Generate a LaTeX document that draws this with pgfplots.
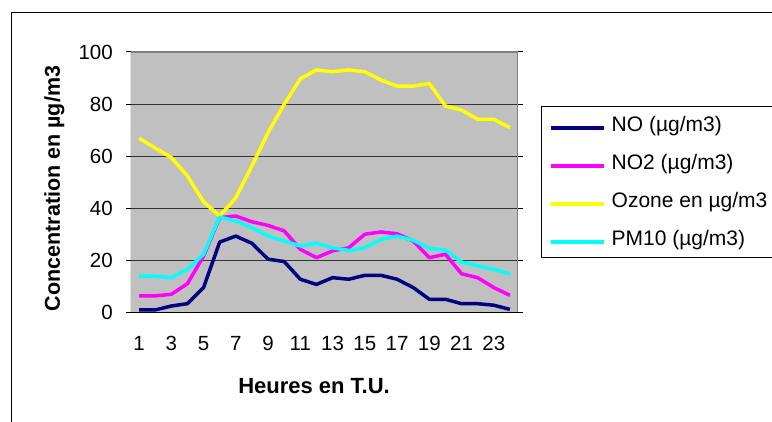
\documentclass[border=0pt]{standalone}
\usepackage{pgfplots}
\usepackage{pgfplotstable}
\pgfplotsset{compat=1.18}
\usepackage{fontspec}
\setmainfont{Liberation Sans}
\definecolor{noC}{RGB}{0,0,128}
\definecolor{notwoC}{RGB}{255,0,255}
\definecolor{ozC}{RGB}{255,255,0}
\definecolor{pmC}{RGB}{0,255,255}
\definecolor{plotbg}{RGB}{192,192,192}
\definecolor{bordergray}{RGB}{128,128,128}
\pgfplotstableread{
h NO NOtwo Ozone PM
1 0.8 6.2 66.8 13.8
2 0.8 6.2 63.1 13.8
3 2.3 6.8 59.4 13.2
4 3.2 10.9 52.3 16.4
5 9.4 21.5 42.4 22.2
6 26.9 36.3 36.9 36.5
7 29.2 36.9 44.0 35.0
8 26.4 34.7 56.2 32.4
9 20.3 33.3 69.0 29.2
10 19.4 31.2 79.9 27.3
11 12.6 24.1 89.7 25.4
12 10.6 20.9 93.1 26.4
13 13.2 23.5 92.4 24.7
14 12.6 24.7 93.1 23.7
15 14.1 29.9 92.4 24.7
16 14.1 30.8 89.2 27.9
17 12.6 30.1 86.9 29.2
18 9.4 27.3 86.9 27.6
19 4.9 20.9 87.9 24.5
20 4.9 22.2 79.2 23.8
21 3.2 14.7 77.7 19.2
22 3.2 13.2 74.1 17.7
23 2.6 9.4 74.1 16.4
24 1.0 6.4 70.9 14.7
}\datatable
\begin{document}
\begin{tikzpicture}[x=1pt,y=1pt]
\useasboundingbox (0,0) rectangle (772,421);
\clip (0,0) rectangle (772,421);
\fill[white] (0,0) rectangle (772,421);
\draw[black, line width=1pt] (11,-10) -- (11,408) -- (790,408);
\draw[black, line width=1pt, fill=white] (541,163) rectangle (800,314);
\begin{axis}[
  at={(131pt,109pt)}, anchor=south west,
  width=387pt, height=260pt, scale only axis,
  xmin=0.5, xmax=24.5, ymin=0, ymax=100,
  axis background/.style={fill=plotbg},
  axis line style={draw=none},
  tick align=outside,
  major tick length=5pt,
  tick style={black, line width=1pt},
  xtick={1,3,...,23},
  xticklabels={1,3,5,7,9,11,13,15,17,19,21,23},
  major x tick style={draw=none},
  extra x ticks={0.5,1.5,...,24.5},
  extra x tick labels={},
  extra x tick style={major tick length=5pt, tick style={black, line width=1pt}},
  ytick={0,20,...,100},
  ymajorgrids,
  grid style={black!80, line width=1pt},
  xticklabel shift=19pt,
  yticklabel shift=13pt,
  xticklabel style={inner sep=0pt, anchor=north},
  yticklabel style={inner sep=0pt, anchor=east},
  ticklabel style={font=\fontsize{20.5}{24}\selectfont},
  /pgf/number format/assume math mode=true,
  xlabel={Heures en T.U.},
  ylabel={Concentration en µg/m3},
  xlabel style={font=\fontsize{22}{26}\selectfont\bfseries, at={(axis description cs:0.473,-0.285)}, anchor=center},
  ylabel style={font=\fontsize{21.5}{26}\selectfont\bfseries, at={(axis description cs:-0.198,0.475)}, anchor=center},
  legend style={draw=none, fill=none, inner sep=0pt,
    at={(axis description cs:1.0801,0.745)}, anchor=north west,
    font=\fontsize{21}{25}\selectfont,
    row sep=19pt, column sep=6pt,
    nodes={inner sep=0pt, text height=13pt, text depth=6pt}},
  legend cell align=left,
  legend image code/.code={\draw[#1, line width=3.5pt] (0pt,0pt) -- (53pt,0pt);},
  every axis plot/.append style={line width=3.5pt, line join=round, no markers},
]
\addplot[noC] table[x=h, y=NO] {\datatable};
\addlegendentry{NO (µg/m3)}
\addplot[notwoC] table[x=h, y=NOtwo] {\datatable};
\addlegendentry{NO2 (µg/m3)}
\addplot[ozC] table[x=h, y=Ozone] {\datatable};
\addlegendentry{Ozone en µg/m3}
\addplot[pmC] table[x=h, y=PM] {\datatable};
\addlegendentry{PM10 (µg/m3)}
\draw[bordergray, line width=1.5pt] (rel axis cs:0,1) -- (rel axis cs:1,1) -- (rel axis cs:1,0);
\draw[black, line width=1pt] (rel axis cs:0,1) -- (rel axis cs:0,0) -- (rel axis cs:1,0);
\end{axis}
\end{tikzpicture}
\end{document}
